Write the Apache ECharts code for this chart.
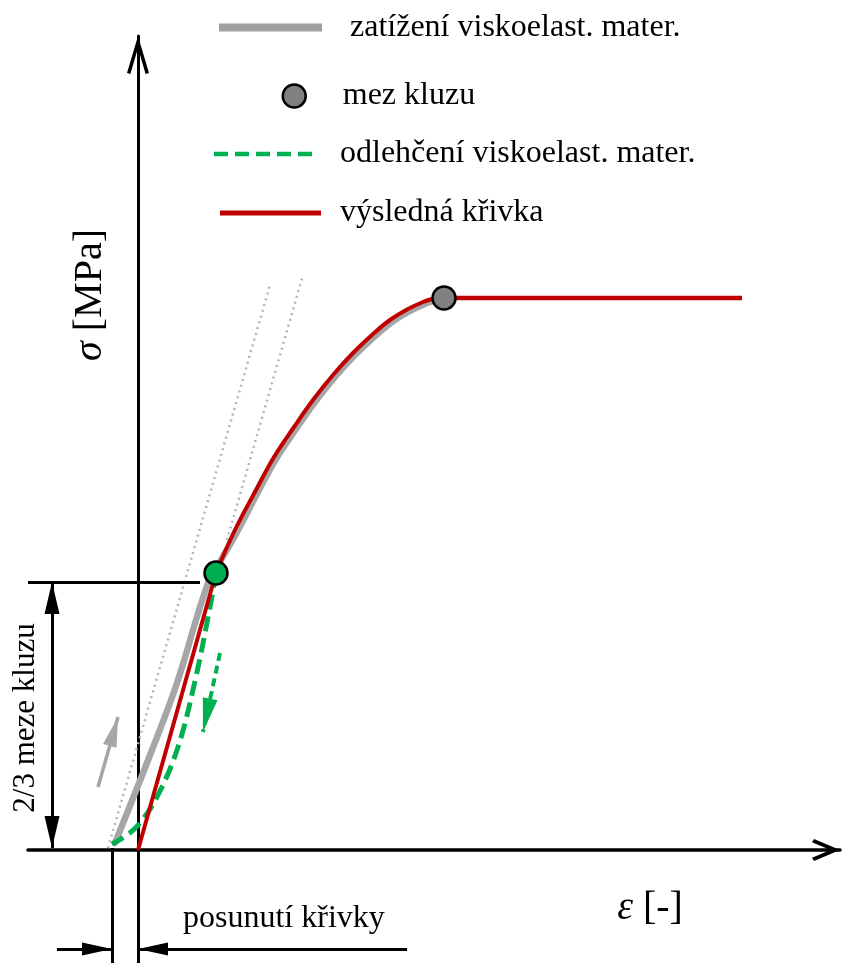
<!DOCTYPE html>
<html>
<head>
<meta charset="utf-8">
<script src="https://cdn.jsdelivr.net/npm/echarts@6/dist/echarts.min.js"></script>
<style>html,body{margin:0;padding:0;background:#fff}#c{width:843px;height:963px}</style>
</head>
<body>
<div id="c"></div>
<script>
// ---- data (strain ε and stress σ in arbitrary schematic units) ----
const seriesNames = ['zatížení viskoelast. mater.', 'mez kluzu', 'odlehčení viskoelast. mater.', 'výsledná křivka'];

// loading curve of the viscoelastic material (grey)
const loadEps = [-0.23, 0.14, 0.39, 0.70, 0.83, 0.98, 1.20, 1.38, 1.58, 1.77, 1.97, 2.17, 2.37, 2.54, 2.72, 2.87, 2.95, 3.06];
const loadSig = [ 0.07, 1.00, 1.67, 2.67, 2.90, 3.16, 3.58, 3.91, 4.21, 4.48, 4.73, 4.95, 5.14, 5.28, 5.39, 5.46, 5.49, 5.50];

// unloading of the viscoelastic material (green dashed)
const unloadEps = [0.78, 0.72, 0.57, 0.40, 0.20, 0.02, -0.11, -0.26];
const unloadSig = [2.77, 2.43, 1.69, 1.03, 0.55, 0.27, 0.15, 0.06];

// resulting curve (red): straight part, curved part, plateau
const resLinEps = [0.00, 0.78];
const resLinSig = [0.00, 2.77];
const resCurveEps = [0.78, 0.96, 1.18, 1.36, 1.56, 1.75, 1.95, 2.15, 2.35, 2.52, 2.70, 2.85, 2.94, 3.06];
const resCurveSig = [2.77, 3.18, 3.60, 3.93, 4.23, 4.50, 4.75, 4.97, 5.16, 5.30, 5.41, 5.48, 5.51, 5.52];
const resFlatEps = [3.06, 6.04];
const resFlatSig = [5.52, 5.52];

// points
const yieldPoint = [3.06, 5.52];
const twoThirdPoint = [0.78, 2.77];

// dotted tangents
const tan1Eps = [-0.30, 1.32], tan1Sig = [0.02, 5.65];
const tan2Eps = [0.89, 1.65], tan2Sig = [3.10, 5.75];

// direction arrows [from, to]
const loadArrow = [[-0.40, 0.63], [-0.20, 1.33]];
const unloadArrow = [[0.82, 1.97], [0.65, 1.18]];

// dimension lines
const levelLine = [[-1.10, 2.68], [0.62, 2.68]];
const levelDim = [[-0.86, 2.68], [-0.86, 0.02]];
const shiftLine = [[-0.26, 0.02], [-0.26, -1.13]];
const shiftArrowL = [[-0.81, -0.99], [-0.26, -0.99]];
const shiftArrowR = [[2.69, -0.99], [0.00, -0.99]];

// axis extents
const X_MIN = -1.10, X_MAX = 7.02, Y_MIN = -1.13, Y_MAX = 8.14;

// ---- helpers ----
const zip = (a, b) => a.map((v, i) => [v, b[i]]);
const FONT = 'Liberation Serif';
const TRI = 'path://M0,1 L0.5,0 L1,1 Z';
const CHEV_X = 'path://M11,0 L22,26 L18.8,28 L11,9.5 L3.2,28 L0,26 Z';
const CHEV_Y = 'path://M11,0 L22,37 L18.6,38 L11,12 L3.4,38 L0,37 Z';
const DASH_ICON = 'path://M0,0H14V4.5H0Z M21,0H35V4.5H21Z M42,0H56V4.5H42Z M63,0H77V4.5H63Z M84,0H98V4.5H84Z';

function seg(p, style, endSym, startSym) {
  const a = {coord: p[0], lineStyle: style, symbol: 'none'};
  const b = {coord: p[1], symbol: 'none'};
  if (startSym) { a.symbol = TRI; a.symbolSize = startSym; a.symbolOffset = [0, '50%']; }
  if (endSym) { b.symbol = TRI; b.symbolSize = endSym; b.symbolOffset = [0, '50%']; }
  return [a, b];
}
const blk = {color: '#000', width: 3, type: 'solid'};

function legendCfg(name, icon, w, h, color, left, top, pad, border) {
  return {
    show: true, selectedMode: false, padding: 0, left: left, top: top,
    itemWidth: w, itemHeight: h,
    data: [{name: name, icon: icon, itemStyle: Object.assign({color: color, borderWidth: 0, opacity: 1}, border || {})}],
    textStyle: {fontFamily: FONT, fontSize: 32, lineHeight: 32, color: '#000', padding: pad}
  };
}

const chart = echarts.init(document.getElementById('c'), null, {renderer: 'canvas'});
chart.setOption({
  animation: false,
  backgroundColor: '#fff',
  grid: {left: 28, right: 3, top: 36, bottom: 0, outerBoundsMode: 'none'},
  legend: [
    legendCfg(seriesNames[0], 'rect', 103, 8, '#a0a0a0', 219, 7, [0, 0, 9, 23]),
    legendCfg(seriesNames[1], 'circle', 23, 23, '#808080', 281.5, 68, [0, 0, 24, 32], {borderColor: '#000', borderWidth: 2.5}),
    legendCfg(seriesNames[2], DASH_ICON, 98, 4.5, '#00b050', 214, 133, [0, 0, 10, 23]),
    legendCfg(seriesNames[3], 'rect', 101, 5, '#c00000', 220, 195, [0, 0, 4, 14])
  ],
  xAxis: {
    type: 'value', min: X_MIN, max: X_MAX,
    axisLine: {show: true, onZero: true, lineStyle: {color: '#000', width: 3.5},
      symbol: ['none', CHEV_X], symbolSize: [22, 28], symbolOffset: [0, -14]},
    axisTick: {show: false}, axisLabel: {show: false}, splitLine: {show: false}
  },
  yAxis: {
    type: 'value', min: Y_MIN, max: Y_MAX,
    axisLine: {show: true, onZero: true, lineStyle: {color: '#000', width: 3},
      symbol: ['none', CHEV_Y], symbolSize: [22, 38], symbolOffset: [0, -19]},
    axisTick: {show: false}, axisLabel: {show: false}, splitLine: {show: false}
  },
  series: [
    {type: 'line', name: 'tečna 1', data: zip(tan1Eps, tan1Sig), symbol: 'none', silent: true,
      lineStyle: {color: '#b4b4b4', width: 2.5, type: [2, 4]}, z: 1,
      markLine: {
        silent: true, symbol: 'none', label: {show: false}, emphasis: {disabled: true},
        lineStyle: blk,
        data: [
          seg(levelLine, blk),
          seg(levelDim, blk, [15, 32], [15, 32]),
          seg(shiftLine, blk),
          seg(shiftArrowL, blk, [13, 30]),
          seg(shiftArrowR, blk, [13, 30]),
          seg(loadArrow, {color: '#a6a6a6', width: 3.5, type: 'solid'}, [14, 30]),
          seg(unloadArrow, {color: '#00b050', width: 4, type: [8, 5]}, [15, 34])
        ]
      }
    },
    {type: 'line', name: 'tečna 2', data: zip(tan2Eps, tan2Sig), symbol: 'none', silent: true,
      lineStyle: {color: '#b4b4b4', width: 2.5, type: [2, 4]}, z: 1},
    {type: 'line', name: seriesNames[0], data: zip(loadEps, loadSig), smooth: 0.4, symbol: 'none',
      color: '#a0a0a0', lineStyle: {color: '#a6a6a6', width: 6.5, cap: 'round', join: 'round'}, z: 2},
    {type: 'line', name: seriesNames[2], data: zip(unloadEps, unloadSig), smooth: 0.4, symbol: 'none',
      color: '#00b050', lineStyle: {color: '#00b050', width: 5, type: [15, 7]}, z: 3},
    {type: 'line', name: seriesNames[3], data: zip(resLinEps, resLinSig), symbol: 'none',
      color: '#c00000', lineStyle: {color: '#c00000', width: 4}, z: 4},
    {type: 'line', name: seriesNames[3], data: zip(resCurveEps, resCurveSig), smooth: 0.4, symbol: 'none',
      color: '#c00000', lineStyle: {color: '#c00000', width: 4, join: 'round'}, z: 4},
    {type: 'line', name: seriesNames[3], data: zip(resFlatEps, resFlatSig), symbol: 'none',
      color: '#c00000', lineStyle: {color: '#c00000', width: 4.5}, z: 4},
    {type: 'scatter', name: seriesNames[1], data: [yieldPoint], symbolSize: 23,
      itemStyle: {color: '#808080', borderColor: '#000', borderWidth: 2.5, opacity: 1}, z: 6},
    {type: 'scatter', name: '2/3 meze kluzu', data: [twoThirdPoint], symbolSize: 23,
      itemStyle: {color: '#00b050', borderColor: '#000', borderWidth: 2.5, opacity: 1}, z: 6}
  ],
  graphic: [
    {type: 'text', x: 90, y: 295, rotation: Math.PI / 2, silent: true,
      style: {text: '{i|σ} [MPa]', fontFamily: FONT, fontSize: 40, fill: '#000', align: 'center', verticalAlign: 'middle',
        rich: {i: {fontFamily: FONT, fontSize: 40, fontStyle: 'italic', fill: '#000'}}}},
    {type: 'text', x: 650, y: 908, silent: true,
      style: {text: '{i|ε} [-]', fontFamily: FONT, fontSize: 40, fill: '#000', align: 'center', verticalAlign: 'middle',
        rich: {i: {fontFamily: FONT, fontSize: 40, fontStyle: 'italic', fill: '#000'}}}},
    {type: 'text', x: 26, y: 718, rotation: Math.PI / 2, silent: true,
      style: {text: '2/3 meze kluzu', fontFamily: FONT, fontSize: 31, fill: '#000', align: 'center', verticalAlign: 'middle'}},
    {type: 'text', x: 183, y: 919, silent: true,
      style: {text: 'posunutí křivky', fontFamily: FONT, fontSize: 32, fill: '#000', align: 'left', verticalAlign: 'middle'}}
  ]
});
</script>
</body>
</html>
